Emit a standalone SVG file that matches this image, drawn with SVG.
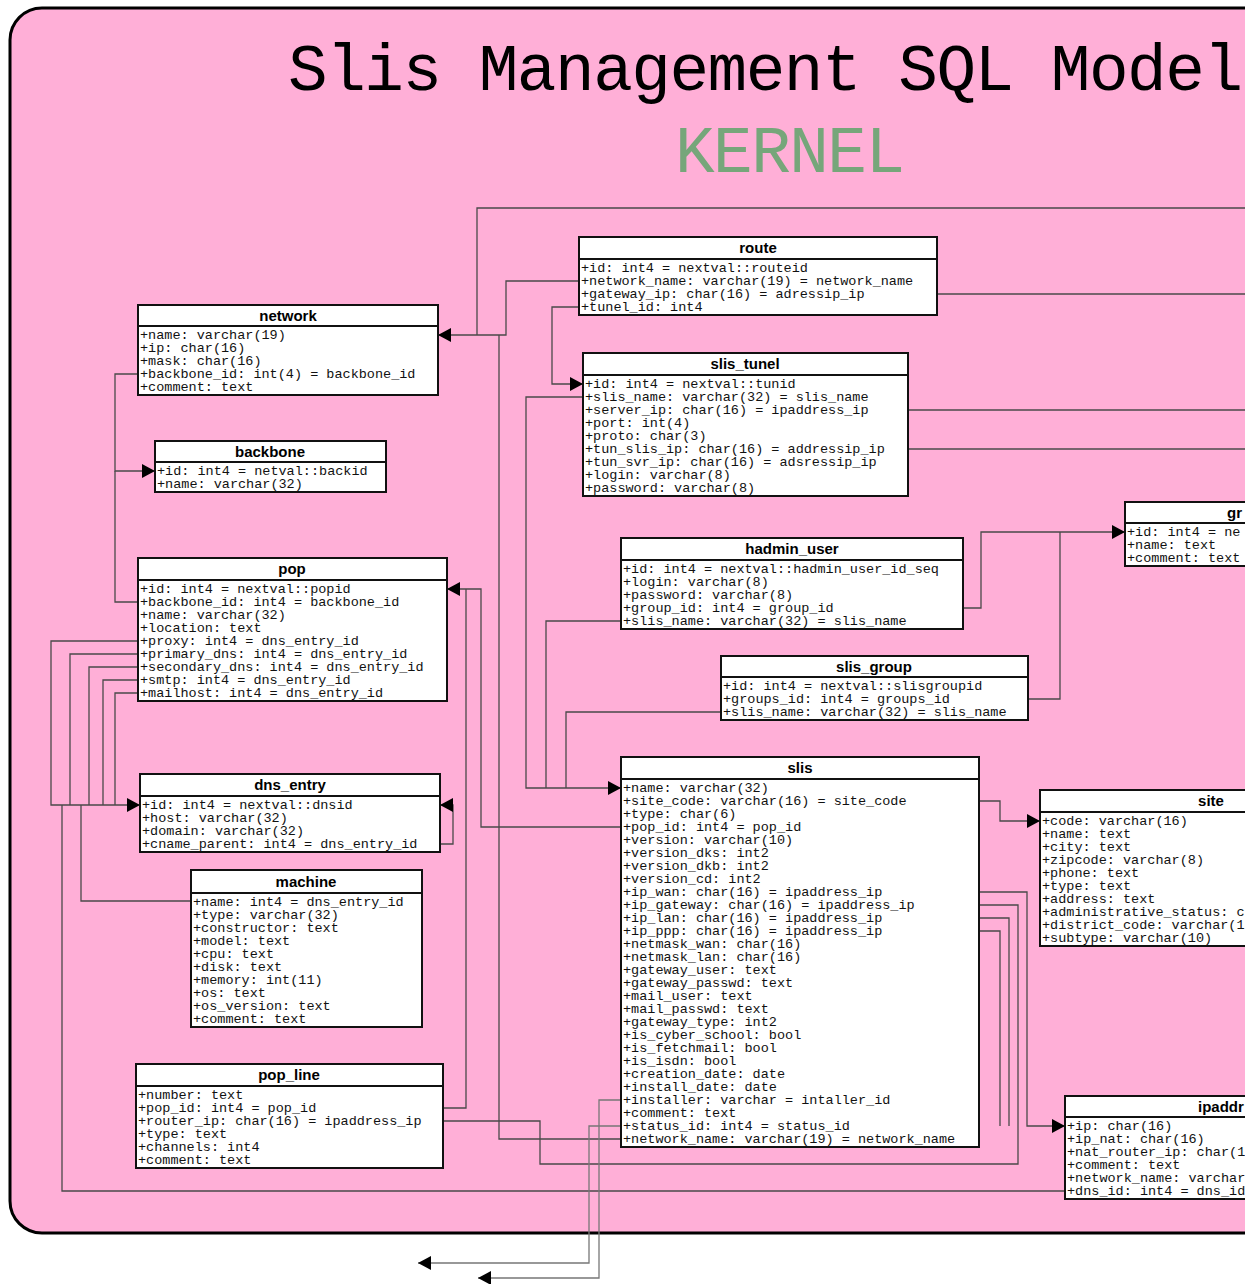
<svg xmlns="http://www.w3.org/2000/svg" width="1245" height="1284" viewBox="0 0 1245 1284">
<style>
.frame{fill:#ffafd7;stroke:#000;stroke-width:3}
.box{fill:#fff;stroke:#111;stroke-width:2}
.sep{stroke:#111;stroke-width:2}
.hd{font-family:"Liberation Sans",Arial,sans-serif;font-weight:bold;font-size:15px;text-anchor:middle;fill:#000}
.fld{font-family:"Liberation Mono","Courier New",monospace;font-size:13.5px;fill:#111}
.title{font-family:"Liberation Mono","DejaVu Sans Mono",monospace;font-size:66px}
.c{fill:none;stroke:#4a4a4a;stroke-width:1.3}
.out{fill:none;stroke:#777;stroke-width:1.3}
</style>
<defs>
<marker id="arr" viewBox="0 0 13 14" refX="13" refY="7" markerWidth="13" markerHeight="14" orient="auto" markerUnits="userSpaceOnUse">
<path d="M0,0 L13,7 L0,14 z" fill="#000"/>
</marker>
</defs>
<rect class="frame" x="10" y="8" width="1320" height="1225" rx="32" ry="32"/>
<text class="title" x="288" y="90" textLength="955" lengthAdjust="spacing" fill="#000">Slis Management SQL Model</text>
<text class="title" x="675" y="172" textLength="230" lengthAdjust="spacing" fill="#76a67a">KERNEL</text>

<g id="connectors">
<path class="c" d="M579,281 H506 V335 H438" marker-end="url(#arr)"/>
<path class="c" d="M1245,208 H477 V335"/>
<path class="c" d="M621,1139 H499 V335"/>
<path class="c" d="M579,307 H552 V384 H583" marker-end="url(#arr)"/>
<path class="c" d="M583,397 H526 V788 H621" marker-end="url(#arr)"/>
<path class="c" d="M621,621 H546 V788"/>
<path class="c" d="M721,712 H566 V788"/>
<path class="c" d="M932,294 H1245"/>
<path class="c" d="M908,410 H1245"/>
<path class="c" d="M908,449 H1245"/>
<path class="c" d="M958,608 H981 V532 H1125" marker-end="url(#arr)"/>
<path class="c" d="M1028,699 H1060 V532"/>
<path class="c" d="M138,374 H115 V471 H155" marker-end="url(#arr)"/>
<path class="c" d="M138,602 H115 V471"/>
<path class="c" d="M138,641 H51 V805 H140" marker-end="url(#arr)"/>
<path class="c" d="M138,654 H70 V805"/>
<path class="c" d="M138,667 H89 V805"/>
<path class="c" d="M138,680 H103 V805"/>
<path class="c" d="M138,693 H115 V805"/>
<path class="c" d="M191,901 H81 V805"/>
<path class="c" d="M1065,1191 H62 V805"/>
<path class="c" d="M440,844 H453 V805 H440" marker-end="url(#arr)"/>
<path class="c" d="M621,827 H481 V589 H447" marker-end="url(#arr)"/>
<path class="c" d="M443,1108 H466 V589"/>
<path class="c" d="M443,1121 H540 V1164 H1018 V1126"/>
<path class="c" d="M979,892 H1027 V1126 H1065" marker-end="url(#arr)"/>
<path class="c" d="M979,905 H1018 V1126"/>
<path class="c" d="M979,918 H1009 V1126"/>
<path class="c" d="M979,931 H1000 V1126"/>
<path class="c" d="M979,801 H1000 V821 H1040" marker-end="url(#arr)"/>
<path class="out" d="M621,1100 H599 V1278 H478" marker-end="url(#arr)"/>
<path class="out" d="M621,1126 H589 V1263 H418" marker-end="url(#arr)"/>
</g>

<g id="route">
<rect class="box" x="579" y="237" width="358" height="78"/>
<line class="sep" x1="579" y1="259" x2="937" y2="259"/>
<text class="hd" x="758" y="253">route</text>
<text class="fld"><tspan x="581" y="272">+id: int4 = nextval::routeid</tspan><tspan x="581" y="285">+network_name: varchar(19) = network_name</tspan><tspan x="581" y="298">+gateway_ip: char(16) = adressip_ip</tspan><tspan x="581" y="311">+tunel_id: int4</tspan></text>
</g>

<g id="network">
<rect class="box" x="138" y="305" width="300" height="90"/>
<line class="sep" x1="138" y1="326" x2="438" y2="326"/>
<text class="hd" x="288" y="321">network</text>
<text class="fld"><tspan x="140" y="339">+name: varchar(19)</tspan><tspan x="140" y="352">+ip: char(16)</tspan><tspan x="140" y="365">+mask: char(16)</tspan><tspan x="140" y="378">+backbone_id: int(4) = backbone_id</tspan><tspan x="140" y="391">+comment: text</tspan></text>
</g>

<g id="slis_tunel">
<rect class="box" x="583" y="353" width="325" height="143"/>
<line class="sep" x1="583" y1="375" x2="908" y2="375"/>
<text class="hd" x="745" y="369">slis_tunel</text>
<text class="fld"><tspan x="585" y="388">+id: int4 = nextval::tunid</tspan><tspan x="585" y="401">+slis_name: varchar(32) = slis_name</tspan><tspan x="585" y="414">+server_ip: char(16) = ipaddress_ip</tspan><tspan x="585" y="427">+port: int(4)</tspan><tspan x="585" y="440">+proto: char(3)</tspan><tspan x="585" y="453">+tun_slis_ip: char(16) = addressip_ip</tspan><tspan x="585" y="466">+tun_svr_ip: char(16) = adsressip_ip</tspan><tspan x="585" y="479">+login: varchar(8)</tspan><tspan x="585" y="492">+password: varchar(8)</tspan></text>
</g>

<g id="backbone">
<rect class="box" x="155" y="441" width="231" height="51"/>
<line class="sep" x1="155" y1="462" x2="386" y2="462"/>
<text class="hd" x="270" y="457">backbone</text>
<text class="fld"><tspan x="157" y="475">+id: int4 = netval::backid</tspan><tspan x="157" y="488">+name: varchar(32)</tspan></text>
</g>

<g id="groups">
<rect class="box" x="1125" y="502" width="270" height="64"/>
<line class="sep" x1="1125" y1="523" x2="1395" y2="523"/>
<text class="hd" x="1227" y="518" style="text-anchor:start">gr</text>
<text class="fld"><tspan x="1127" y="536">+id: int4 = ne</tspan><tspan x="1127" y="549">+name: text</tspan><tspan x="1127" y="562">+comment: text</tspan></text>
</g>

<g id="hadmin_user">
<rect class="box" x="621" y="538" width="342" height="91"/>
<line class="sep" x1="621" y1="560" x2="963" y2="560"/>
<text class="hd" x="792" y="554">hadmin_user</text>
<text class="fld"><tspan x="623" y="573">+id: int4 = nextval::hadmin_user_id_seq</tspan><tspan x="623" y="586">+login: varchar(8)</tspan><tspan x="623" y="599">+password: varchar(8)</tspan><tspan x="623" y="612">+group_id: int4 = group_id</tspan><tspan x="623" y="625">+slis_name: varchar(32) = slis_name</tspan></text>
</g>

<g id="pop">
<rect class="box" x="138" y="558" width="309" height="143"/>
<line class="sep" x1="138" y1="580" x2="447" y2="580"/>
<text class="hd" x="292" y="574">pop</text>
<text class="fld"><tspan x="140" y="593">+id: int4 = nextval::popid</tspan><tspan x="140" y="606">+backbone_id: int4 = backbone_id</tspan><tspan x="140" y="619">+name: varchar(32)</tspan><tspan x="140" y="632">+location: text</tspan><tspan x="140" y="645">+proxy: int4 = dns_entry_id</tspan><tspan x="140" y="658">+primary_dns: int4 = dns_entry_id</tspan><tspan x="140" y="671">+secondary_dns: int4 = dns_entry_id</tspan><tspan x="140" y="684">+smtp: int4 = dns_entry_id</tspan><tspan x="140" y="697">+mailhost: int4 = dns_entry_id</tspan></text>
</g>

<g id="slis_group">
<rect class="box" x="721" y="656" width="307" height="64"/>
<line class="sep" x1="721" y1="677" x2="1028" y2="677"/>
<text class="hd" x="874" y="672">slis_group</text>
<text class="fld"><tspan x="723" y="690">+id: int4 = nextval::slisgroupid</tspan><tspan x="723" y="703">+groups_id: int4 = groups_id</tspan><tspan x="723" y="716">+slis_name: varchar(32) = slis_name</tspan></text>
</g>

<g id="slis">
<rect class="box" x="621" y="757" width="358" height="390"/>
<line class="sep" x1="621" y1="779" x2="979" y2="779"/>
<text class="hd" x="800" y="773">slis</text>
<text class="fld"><tspan x="623" y="792">+name: varchar(32)</tspan><tspan x="623" y="805">+site_code: varchar(16) = site_code</tspan><tspan x="623" y="818">+type: char(6)</tspan><tspan x="623" y="831">+pop_id: int4 = pop_id</tspan><tspan x="623" y="844">+version: varchar(10)</tspan><tspan x="623" y="857">+version_dks: int2</tspan><tspan x="623" y="870">+version_dkb: int2</tspan><tspan x="623" y="883">+version_cd: int2</tspan><tspan x="623" y="896">+ip_wan: char(16) = ipaddress_ip</tspan><tspan x="623" y="909">+ip_gateway: char(16) = ipaddress_ip</tspan><tspan x="623" y="922">+ip_lan: char(16) = ipaddress_ip</tspan><tspan x="623" y="935">+ip_ppp: char(16) = ipaddress_ip</tspan><tspan x="623" y="948">+netmask_wan: char(16)</tspan><tspan x="623" y="961">+netmask_lan: char(16)</tspan><tspan x="623" y="974">+gateway_user: text</tspan><tspan x="623" y="987">+gateway_passwd: text</tspan><tspan x="623" y="1000">+mail_user: text</tspan><tspan x="623" y="1013">+mail_passwd: text</tspan><tspan x="623" y="1026">+gateway_type: int2</tspan><tspan x="623" y="1039">+is_cyber_school: bool</tspan><tspan x="623" y="1052">+is_fetchmail: bool</tspan><tspan x="623" y="1065">+is_isdn: bool</tspan><tspan x="623" y="1078">+creation_date: date</tspan><tspan x="623" y="1091">+install_date: date</tspan><tspan x="623" y="1104">+installer: varchar = intaller_id</tspan><tspan x="623" y="1117">+comment: text</tspan><tspan x="623" y="1130">+status_id: int4 = status_id</tspan><tspan x="623" y="1143">+network_name: varchar(19) = network_name</tspan></text>
</g>

<g id="dns_entry">
<rect class="box" x="140" y="774" width="300" height="78"/>
<line class="sep" x1="140" y1="796" x2="440" y2="796"/>
<text class="hd" x="290" y="790">dns_entry</text>
<text class="fld"><tspan x="142" y="809">+id: int4 = nextval::dnsid</tspan><tspan x="142" y="822">+host: varchar(32)</tspan><tspan x="142" y="835">+domain: varchar(32)</tspan><tspan x="142" y="848">+cname_parent: int4 = dns_entry_id</tspan></text>
</g>

<g id="site">
<rect class="box" x="1040" y="790" width="350" height="156"/>
<line class="sep" x1="1040" y1="812" x2="1390" y2="812"/>
<text class="hd" x="1211" y="806">site</text>
<text class="fld"><tspan x="1042" y="825">+code: varchar(16)</tspan><tspan x="1042" y="838">+name: text</tspan><tspan x="1042" y="851">+city: text</tspan><tspan x="1042" y="864">+zipcode: varchar(8)</tspan><tspan x="1042" y="877">+phone: text</tspan><tspan x="1042" y="890">+type: text</tspan><tspan x="1042" y="903">+address: text</tspan><tspan x="1042" y="916">+administrative_status: c</tspan><tspan x="1042" y="929">+district_code: varchar(1</tspan><tspan x="1042" y="942">+subtype: varchar(10)</tspan></text>
</g>

<g id="machine">
<rect class="box" x="191" y="870" width="231" height="157"/>
<line class="sep" x1="191" y1="893" x2="422" y2="893"/>
<text class="hd" x="306" y="887">machine</text>
<text class="fld"><tspan x="193" y="906">+name: int4 = dns_entry_id</tspan><tspan x="193" y="919">+type: varchar(32)</tspan><tspan x="193" y="932">+constructor: text</tspan><tspan x="193" y="945">+model: text</tspan><tspan x="193" y="958">+cpu: text</tspan><tspan x="193" y="971">+disk: text</tspan><tspan x="193" y="984">+memory: int(11)</tspan><tspan x="193" y="997">+os: text</tspan><tspan x="193" y="1010">+os_version: text</tspan><tspan x="193" y="1023">+comment: text</tspan></text>
</g>

<g id="pop_line">
<rect class="box" x="136" y="1064" width="307" height="104"/>
<line class="sep" x1="136" y1="1086" x2="443" y2="1086"/>
<text class="hd" x="289" y="1080">pop_line</text>
<text class="fld"><tspan x="138" y="1099">+number: text</tspan><tspan x="138" y="1112">+pop_id: int4 = pop_id</tspan><tspan x="138" y="1125">+router_ip: char(16) = ipaddress_ip</tspan><tspan x="138" y="1138">+type: text</tspan><tspan x="138" y="1151">+channels: int4</tspan><tspan x="138" y="1164">+comment: text</tspan></text>
</g>

<g id="ipaddr">
<rect class="box" x="1065" y="1096" width="350" height="103"/>
<line class="sep" x1="1065" y1="1117" x2="1415" y2="1117"/>
<text class="hd" x="1198" y="1112" style="text-anchor:start">ipaddr</text>
<text class="fld"><tspan x="1067" y="1130">+ip: char(16)</tspan><tspan x="1067" y="1143">+ip_nat: char(16)</tspan><tspan x="1067" y="1156">+nat_router_ip: char(1</tspan><tspan x="1067" y="1169">+comment: text</tspan><tspan x="1067" y="1182">+network_name: varchar</tspan><tspan x="1067" y="1195">+dns_id: int4 = dns_id</tspan></text>
</g>
</svg>
